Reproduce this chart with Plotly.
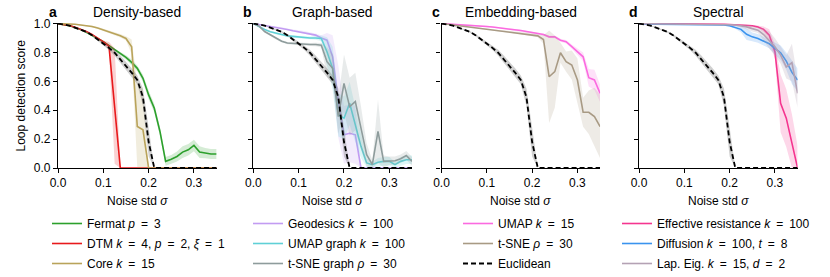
import plotly.graph_objects as go

# ---------------- data ----------------
sigma = [0.0, 0.0125, 0.025, 0.0375, 0.05, 0.0625, 0.075, 0.0875, 0.1, 0.1125,
         0.125, 0.1375, 0.15, 0.1625, 0.175, 0.1875, 0.2, 0.2125, 0.225, 0.2375,
         0.25, 0.2625, 0.275, 0.2875, 0.3, 0.3125, 0.325, 0.3375, 0.35]

euclid = [1.0, 0.995, 0.986, 0.972, 0.959, 0.943, 0.92, 0.892, 0.862, 0.832,
          0.798, 0.754, 0.708, 0.66, 0.61, 0.49, 0.18, 0.0, 0.0, 0.0,
          0.0, 0.0, 0.0, 0.0, 0.0, 0.0, 0.0, 0.0, 0.0]
euclid_sd = [0.0, 0.002, 0.003, 0.004, 0.005, 0.006, 0.008, 0.01, 0.012, 0.015,
             0.02, 0.025, 0.028, 0.03, 0.03, 0.06, 0.1, 0.0, 0.0, 0.0,
             0.0, 0.0, 0.0, 0.0, 0.0, 0.0, 0.0, 0.0, 0.0]

# panel a: density-based
fermat = [1.0, 0.995, 0.986, 0.972, 0.959, 0.94, 0.92, 0.897, 0.874, 0.846,
          0.816, 0.793, 0.766, 0.731, 0.69, 0.621, 0.506, 0.414, 0.253, 0.046,
          0.06, 0.08, 0.11, 0.126, 0.156, 0.11, 0.103, 0.097, 0.097]
fermat_sd = [0.0, 0.0, 0.0, 0.0, 0.0, 0.003, 0.005, 0.005, 0.008, 0.01,
             0.01, 0.012, 0.015, 0.02, 0.02, 0.025, 0.03, 0.03, 0.03, 0.03,
             0.03, 0.035, 0.04, 0.04, 0.04, 0.04, 0.035, 0.035, 0.035]
dtm = [1.0, 0.995, 0.987, 0.975, 0.962, 0.945, 0.925, 0.9, 0.873, 0.843,
       0.43, 0.0, 0.0, 0.0, 0.0, 0.0, 0.0, 0.0, 0.0, 0.0,
       0.0, 0.0, 0.0, 0.0, 0.0, 0.0, 0.0, 0.0, 0.0]
dtm_sd = [0.0, 0.0, 0.0, 0.0, 0.0, 0.0, 0.0, 0.005, 0.01, 0.03,
          0.4, 0.0, 0.0, 0.0, 0.0, 0.0, 0.0, 0.0, 0.0, 0.0,
          0.0, 0.0, 0.0, 0.0, 0.0, 0.0, 0.0, 0.0, 0.0]
core = [1.0, 1.0, 0.998, 0.995, 0.99, 0.986, 0.98, 0.97, 0.957, 0.945,
        0.93, 0.915, 0.897, 0.84, 0.287, 0.264, 0.0, 0.0, 0.0, 0.0,
        0.0, 0.0, 0.0, 0.0, 0.0, 0.0, 0.0, 0.0, 0.0]
core_sd = [0.0, 0.0, 0.002, 0.003, 0.004, 0.005, 0.005, 0.006, 0.008, 0.01,
           0.01, 0.012, 0.015, 0.05, 0.3, 0.28, 0.0, 0.0, 0.0, 0.0,
           0.0, 0.0, 0.0, 0.0, 0.0, 0.0, 0.0, 0.0, 0.0]

# panel b: graph-based
geodesics = [1.0, 0.993, 0.989, 0.984, 0.977, 0.97, 0.959, 0.95, 0.943, 0.938,
             0.931, 0.92, 0.9, 0.885, 0.77, 0.46, 0.23, 0.24, 0.23, 0.0,
             0.0, 0.0, 0.0, 0.0, 0.0, 0.0, 0.0, 0.0, 0.0]
geodesics_sd = [0.0, 0.002, 0.003, 0.004, 0.005, 0.006, 0.007, 0.008, 0.01, 0.01,
                0.01, 0.012, 0.02, 0.05, 0.15, 0.25, 0.2, 0.2, 0.2, 0.0,
                0.0, 0.0, 0.0, 0.0, 0.0, 0.0, 0.0, 0.0, 0.0]
umap_graph = [1.0, 0.977, 0.959, 0.943, 0.931, 0.924, 0.915, 0.91, 0.908, 0.903,
              0.9, 0.9, 0.897, 0.805, 0.69, 0.368, 0.345, 0.448, 0.3, 0.15,
              0.035, 0.023, 0.04, 0.046, 0.046, 0.023, 0.046, 0.057, 0.057]
umap_graph_sd = [0.0, 0.004, 0.005, 0.006, 0.007, 0.008, 0.008, 0.008, 0.01, 0.01,
                 0.01, 0.012, 0.02, 0.1, 0.15, 0.15, 0.15, 0.15, 0.12, 0.08,
                 0.03, 0.02, 0.03, 0.03, 0.03, 0.02, 0.03, 0.03, 0.03]
tsne_graph = [1.0, 0.984, 0.945, 0.922, 0.897, 0.878, 0.865, 0.862, 0.857, 0.857,
              0.855, 0.855, 0.85, 0.736, 0.69, 0.356, 0.586, 0.425, 0.46, 0.276,
              0.092, 0.023, 0.253, 0.046, 0.05, 0.05, 0.064, 0.087, 0.046]
tsne_graph_sd = [0.0, 0.004, 0.006, 0.008, 0.008, 0.008, 0.008, 0.008, 0.01, 0.01,
                 0.01, 0.012, 0.015, 0.1, 0.1, 0.12, 0.2, 0.2, 0.2, 0.15,
                 0.08, 0.03, 0.22, 0.04, 0.03, 0.03, 0.03, 0.03, 0.03]

# panel c: embedding-based
umap = [1.0, 0.998, 0.996, 0.994, 0.992, 0.99, 0.987, 0.984, 0.98, 0.976,
        0.972, 0.968, 0.964, 0.958, 0.952, 0.945, 0.938, 0.93, 0.924, 0.908,
        0.908, 0.885, 0.874, 0.84, 0.805, 0.77, 0.625, 0.61, 0.517]
umap_sd = [0.0, 0.002, 0.002, 0.003, 0.003, 0.003, 0.004, 0.004, 0.004, 0.005,
           0.005, 0.005, 0.005, 0.005, 0.006, 0.006, 0.006, 0.007, 0.008, 0.008,
           0.01, 0.01, 0.012, 0.015, 0.02, 0.03, 0.06, 0.07, 0.06]
tsne = [1.0, 0.995, 0.99, 0.985, 0.98, 0.977, 0.972, 0.966, 0.96, 0.955,
        0.95, 0.947, 0.943, 0.938, 0.933, 0.928, 0.922, 0.915, 0.89, 0.632,
        0.667, 0.798, 0.736, 0.713, 0.609, 0.386, 0.386, 0.356, 0.287]
tsne_sd = [0.0, 0.002, 0.003, 0.003, 0.004, 0.004, 0.005, 0.005, 0.005, 0.006,
           0.006, 0.006, 0.007, 0.007, 0.008, 0.008, 0.01, 0.01, 0.03, 0.32,
           0.25, 0.07, 0.07, 0.1, 0.15, 0.1, 0.15, 0.2, 0.22]

# panel d: spectral
eff_res = [1.0, 1.0, 1.0, 1.0, 1.0, 1.0, 1.0, 1.0, 1.0, 0.999,
           0.999, 0.998, 0.998, 0.997, 0.996, 0.995, 0.994, 0.993, 0.99, 0.988,
           0.985, 0.977, 0.96, 0.92, 0.805, 0.448, 0.345, 0.172, 0.0]
eff_res_sd = [0.0, 0.0, 0.0, 0.0, 0.0, 0.0, 0.0, 0.0, 0.0, 0.001,
              0.001, 0.001, 0.002, 0.002, 0.002, 0.003, 0.003, 0.004, 0.005, 0.006,
              0.008, 0.01, 0.02, 0.04, 0.05, 0.2, 0.2, 0.2, 0.15]
diffusion = [1.0, 0.996, 0.995, 0.995, 0.995, 0.995, 0.995, 0.995, 0.994, 0.994,
             0.994, 0.993, 0.993, 0.993, 0.992, 0.99, 0.985, 0.975, 0.96, 0.926,
             0.908, 0.897, 0.878, 0.86, 0.828, 0.798, 0.74, 0.662, 0.609]
diffusion_sd = [0.0, 0.001, 0.001, 0.001, 0.001, 0.001, 0.001, 0.001, 0.002, 0.002,
                0.002, 0.002, 0.002, 0.003, 0.003, 0.004, 0.006, 0.01, 0.02, 0.04,
                0.03, 0.03, 0.03, 0.03, 0.04, 0.05, 0.06, 0.08, 0.08]
lap_eig = [1.0, 0.998, 0.998, 0.998, 0.997, 0.997, 0.997, 0.997, 0.997, 0.996,
           0.996, 0.996, 0.995, 0.995, 0.994, 0.993, 0.992, 0.99, 0.985, 0.977,
           0.965, 0.954, 0.924, 0.885, 0.839, 0.782, 0.7, 0.73, 0.517]
lap_eig_sd = [0.0, 0.001, 0.001, 0.001, 0.001, 0.001, 0.001, 0.001, 0.002, 0.002,
              0.002, 0.002, 0.002, 0.003, 0.003, 0.004, 0.005, 0.006, 0.01, 0.015,
              0.02, 0.02, 0.04, 0.06, 0.06, 0.06, 0.08, 0.13, 0.1]

x_ticks = [0.0, 0.1, 0.2, 0.3]
x_ticktext = ["0.0", "0.1", "0.2", "0.3"]
y_ticks = [0.0, 0.2, 0.4, 0.6, 0.8, 1.0]
y_ticktext = ["0.0", "0.2", "0.4", "0.6", "0.8", "1.0"]

panel_titles = ["Density-based", "Graph-based", "Embedding-based", "Spectral"]
panel_letters = ["a", "b", "c", "d"]

EQ = "\u2002=\u2002"
names = {
    "fermat": f"Fermat <i>p</i>{EQ}3",
    "dtm": f"DTM <i>k</i>{EQ}4, <i>p</i>{EQ}2, <i>ξ</i>{EQ}1",
    "core": f"Core <i>k</i>{EQ}15",
    "geodesics": f"Geodesics <i>k</i>{EQ}100",
    "umap_graph": f"UMAP graph <i>k</i>{EQ}100",
    "tsne_graph": f"t-SNE graph <i>ρ</i>{EQ}30",
    "umap": f"UMAP <i>k</i>{EQ}15",
    "tsne": f"t-SNE <i>ρ</i>{EQ}30",
    "eff_res": f"Effective resistance <i>k</i>{EQ}100",
    "diffusion": f"Diffusion <i>k</i>{EQ}100, <i>t</i>{EQ}8",
    "lap_eig": f"Lap. Eig. <i>k</i>{EQ}15, <i>d</i>{EQ}2",
    "euclid": "Euclidean",
}

# ---------------- styling ----------------
FONT = "Liberation Sans, Arial, sans-serif"
W, H = 830, 277
x_domains_px = [(58, 216.6), (253.3, 412), (441.5, 600.1), (639, 797.6)]
y_domain_px = (23, 168)  # top, bottom in px
legend_text_px = [87, 288, 498, 657]


def rgba(hexc, a):
    hexc = hexc.lstrip("#")
    r, g, b = int(hexc[0:2], 16), int(hexc[2:4], 16), int(hexc[4:6], 16)
    return f"rgba({r},{g},{b},{a})"


series = [
    # (panel, name, values, sd, color, dash, band alpha)
    (0, names["fermat"], fermat, fermat_sd, "#2ca02c", "solid", 0.2),
    (0, names["dtm"], dtm, dtm_sd, "#e8191c", "solid", 0.2),
    (0, names["core"], core, core_sd, "#b9a35a", "solid", 0.2),
    (1, names["geodesics"], geodesics, geodesics_sd, "#c29cf2", "solid", 0.2),
    (1, names["umap_graph"], umap_graph, umap_graph_sd, "#5fd0d6", "solid", 0.2),
    (1, names["tsne_graph"], tsne_graph, tsne_graph_sd, "#8e9c9c", "solid", 0.2),
    (2, names["umap"], umap, umap_sd, "#fb6ae0", "solid", 0.2),
    (2, names["tsne"], tsne, tsne_sd, "#a89a84", "solid", 0.2),
    (3, names["eff_res"], eff_res, eff_res_sd, "#f5358f", "solid", 0.2),
    (3, names["diffusion"], diffusion, diffusion_sd, "#3a93ee", "solid", 0.2),
    (3, names["lap_eig"], lap_eig, lap_eig_sd, "#b4a2b4", "solid", 0.25),
]

fig = go.Figure()
legend_ids = ["legend", "legend2", "legend3", "legend4"]


def add_series(panel, name, vals, sd, color, dash, alpha, show_leg, band_color=None):
    ax = "" if panel == 0 else str(panel + 1)
    upper = [min(1.0, v + s) for v, s in zip(vals, sd)]
    lower = [max(0.0, v - s) for v, s in zip(vals, sd)]
    fig.add_trace(go.Scatter(
        x=list(sigma) + list(sigma[::-1]), y=upper + lower[::-1],
        fill="toself", fillcolor=band_color or rgba(color, alpha),
        line=dict(width=0), mode="lines", hoverinfo="skip", showlegend=False,
        xaxis="x" + ax, yaxis="y" + ax))
    fig.add_trace(go.Scatter(
        x=sigma, y=vals, mode="lines", name=name,
        line=dict(color=color, width=1.6 if dash == "solid" else 1.8, dash=dash),
        showlegend=show_leg, legend=legend_ids[panel], legendgroup=name,
        xaxis="x" + ax, yaxis="y" + ax))


for p in range(4):
    for s in series:
        if s[0] == p:
            add_series(*s, show_leg=True)
    add_series(p, names["euclid"], euclid, euclid_sd, "#000000", "5px,3px", 0.2,
               show_leg=(p == 2), band_color="rgba(120,120,120,0.35)")

layout = dict(
    width=W, height=H, margin=dict(l=0, r=0, t=0, b=0, autoexpand=False),
    paper_bgcolor="white", plot_bgcolor="white",
    font=dict(family=FONT, size=12, color="black"),
    showlegend=True,
)

ytop = 1 - y_domain_px[0] / H
ybot = 1 - y_domain_px[1] / H
annotations = []
for p in range(4):
    ax = "" if p == 0 else str(p + 1)
    x0, x1 = x_domains_px[p]
    layout["xaxis" + ax] = dict(
        domain=[x0 / W, x1 / W], range=[0, 0.35], anchor="y" + ax,
        showline=True, linecolor="black", linewidth=1.1, ticks="outside",
        ticklen=4, tickwidth=1, tickcolor="black", showgrid=False, zeroline=False,
        tickvals=x_ticks, ticktext=x_ticktext, tickfont=dict(size=12, family=FONT),
        fixedrange=True, automargin=False)
    layout["yaxis" + ax] = dict(
        domain=[ybot, ytop], range=[0, 1.004], anchor="x" + ax,
        showline=True, linecolor="black", linewidth=1.1, ticks="outside",
        ticklen=4, tickwidth=1, tickcolor="black", showgrid=False, zeroline=False,
        tickvals=y_ticks, ticktext=y_ticktext, showticklabels=(p == 0),
        tickfont=dict(size=12, family=FONT), fixedrange=True, automargin=False)
    cx = (x0 + x1) / 2 / W
    annotations.append(dict(text=panel_titles[p], x=cx, y=1 - 12.5 / H, xref="paper",
                            yref="paper", xanchor="center", yanchor="middle",
                            showarrow=False, font=dict(size=13.8, family=FONT)))
    annotations.append(dict(text="<b>" + panel_letters[p] + "</b>", x=(x0 + 0.5) / W,
                            y=1 - 12.5 / H, xref="paper", yref="paper",
                            xanchor="right", yanchor="middle", showarrow=False,
                            font=dict(size=14, family=FONT)))
    annotations.append(dict(text="Noise std <i>σ</i>", x=cx, y=1 - 201 / H,
                            xref="paper", yref="paper", xanchor="center",
                            yanchor="middle", showarrow=False,
                            font=dict(size=12, family=FONT)))
    layout[legend_ids[p]] = dict(
        x=(legend_text_px[p] - 40) / W, y=1 - 209 / H, xanchor="left", yanchor="top",
        bgcolor="rgba(0,0,0,0)", borderwidth=0, tracegroupgap=1,
        font=dict(size=12, family=FONT, color="black"), itemclick=False,
        itemdoubleclick=False)

annotations.append(dict(text="Loop detection score", x=20 / W, y=1 - 95.5 / H,
                        xref="paper", yref="paper", xanchor="center", yanchor="middle",
                        textangle=-90, showarrow=False, font=dict(size=12, family=FONT)))
layout["annotations"] = annotations
fig.update_layout(**layout)

fig.write_html("out.html", config={"displayModeBar": False},
               post_script="document.body.style.margin='0';document.body.style.overflow='hidden';")
